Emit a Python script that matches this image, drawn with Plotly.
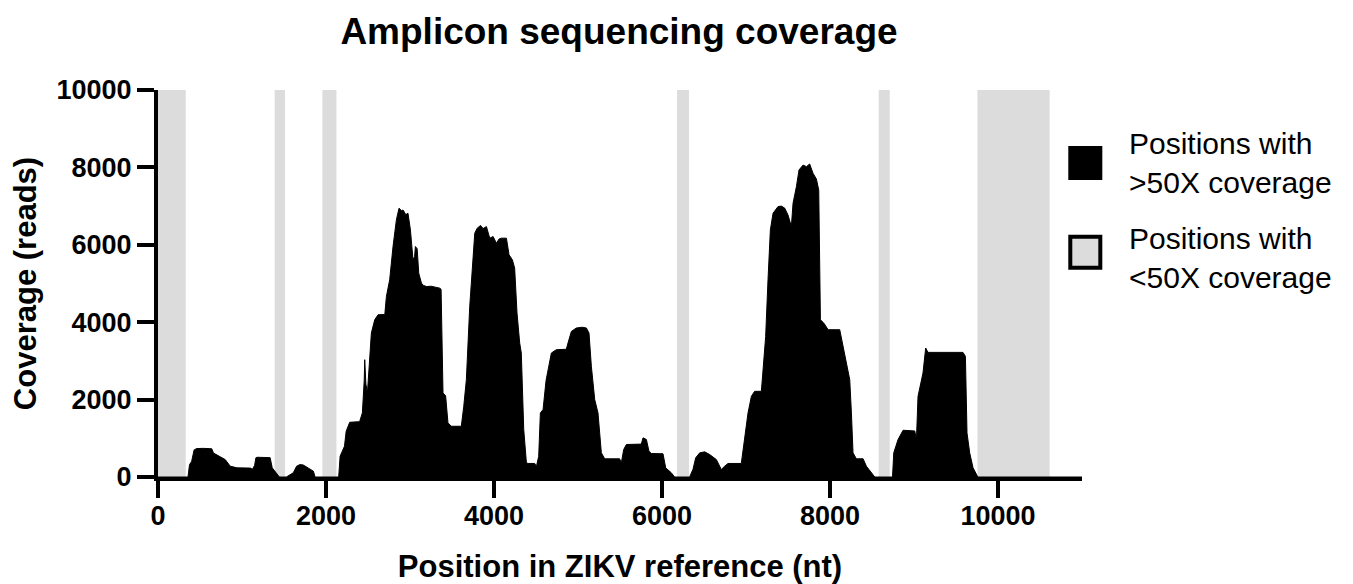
import plotly.graph_objects as go

# Coverage profile (position in nt, coverage in reads)
position = [0, 330, 357, 375, 400, 430, 460, 540, 640, 660, 760, 800, 860, 900, 940, 1100, 1124, 1150,
            1165, 1180, 1335, 1360, 1400, 1430, 1445, 1528, 1611, 1650, 1690, 1730, 1790, 1850, 1870,
            2151, 2168, 2200, 2220, 2240, 2282, 2400, 2433, 2455, 2461, 2475, 2493, 2540, 2580, 2620,
            2700, 2719, 2758, 2798, 2838, 2869, 2900, 2917, 2950, 2976, 3005, 3036, 3055, 3064, 3085,
            3104, 3136, 3160, 3200, 3250, 3310, 3354, 3370, 3393, 3424, 3452, 3492, 3611, 3640, 3671,
            3711, 3743, 3771, 3800, 3840, 3870, 3910, 3949, 3989, 4029, 4060, 4088, 4148, 4179, 4219,
            4246, 4274, 4306, 4325, 4354, 4386, 4405, 4485, 4505, 4532, 4552, 4584, 4620, 4655, 4683,
            4742, 4861, 4881, 4921, 4980, 5050, 5100, 5131, 5159, 5199, 5238, 5278, 5318, 5496, 5516,
            5544, 5576, 5754, 5774, 5814, 5845, 5873, 6012, 6044, 6111, 6150, 6329, 6369, 6401, 6449,
            6508, 6568, 6647, 6706, 6746, 6786, 6944, 6964, 6996, 7024, 7064, 7103, 7183, 7203, 7234,
            7262, 7290, 7322, 7381, 7420, 7460, 7500, 7540, 7560, 7600, 7631, 7679, 7719, 7758, 7798,
            7838, 7866, 7886, 7926, 7978, 8116, 8155, 8195, 8235, 8255, 8274, 8314, 8394, 8433, 8493,
            8533, 8744, 8759, 8810, 8870, 9009, 9029, 9048, 9107, 9139, 9167, 9583, 9612, 9631, 9663,
            9703, 9750, 9760, 11000]
coverage = [0, 0, 0, 320, 400, 700, 735, 740, 730, 620, 495, 450, 280, 250, 237, 230, 200, 300,
            495, 510, 500, 237, 120, 60, 0, 0, 110, 280, 320, 310, 240, 150, 0,
            0, 537, 700, 795, 1182, 1414, 1430, 1656, 2500, 3031, 2400, 2172, 3720, 4064, 4193,
            4200, 4665, 5096, 5955, 6644, 6945, 6880, 6900, 6780, 6816, 6386, 5612, 5700, 5955, 5900,
            5268, 5010, 4950, 4920, 4930, 4900, 4880, 4850, 2172, 2100, 1398, 1311, 1311, 1827, 2516,
            4407, 5440, 6300, 6430, 6500, 6420, 6470, 6171, 6214, 6042, 6150, 6171, 6171, 5741, 5612,
            5397, 4236, 3462, 3204, 1225, 366, 350, 350, 270, 537, 1656, 1742, 2500, 2859, 3204,
            3290, 3300, 3462, 3762, 3850, 3870, 3850, 3720, 2859, 2000, 1656, 624, 470, 470, 366,
            710, 840, 850, 1011, 970, 666, 607, 600, 237, 108, 0, 0, 200, 495, 624,
            650, 580, 450, 194, 280, 350, 350, 710, 1311, 1656, 2085, 2214, 2214, 2688, 3633,
            5096, 6386, 6816, 6987, 7000, 6950, 6770, 6470, 7074, 7503, 7933, 8060, 8020, 8088, 7848,
            7700, 7417, 4064, 3978, 3806, 3806, 3375, 2988, 2516, 1656, 624, 470, 470, 280, 120,
            0, 0, 624, 968, 1208, 1190, 968, 2085, 2688, 3333, 3220, 3220, 3117, 1140, 624,
            237, 50, 0, 0]

# Regions with <50X coverage (start, end in nt)
low_start = [0, 1389, 1957, 6179, 8580, 9755]
low_end = [330, 1512, 2124, 6321, 8711, 10615]

x_ticks = [0, 2000, 4000, 6000, 8000, 10000]
y_ticks = [0, 2000, 4000, 6000, 8000, 10000]

legend_labels = ["Positions with<br>&gt;50X coverage", "Positions with<br>&lt;50X coverage"]

FONT = "Arial, Liberation Sans, Helvetica, sans-serif"
GRAY = "#dcdcdc"

# page has an 8px body margin, so the figure is offset by 8px
OFF = 8
W, H = 1353 - OFF, 584 - OFF
PL, PT, PR, PB = 158.3, 90, 1081.7, 477.5  # plot area in page pixels
L, T = PL - OFF, PT - OFF
R, B = W - (PR - OFF), H - (PB - OFF)
pw, ph = W - L - R, H - T - B


def px_x(px):
    return (px - PL) / pw


def px_y(py):
    return (PB - py) / ph


fig = go.Figure()

for s, e in zip(low_start, low_end):
    fig.add_vrect(x0=s, x1=e, fillcolor=GRAY, line_width=0, layer="below", opacity=1)

fig.add_trace(go.Scatter(x=position, y=coverage, mode="lines", fill="tozeroy",
                         fillcolor="black", line=dict(color="black", width=1),
                         showlegend=False, hoverinfo="x+y"))

# Manual legend
fig.add_shape(type="rect", xref="paper", yref="paper",
              x0=px_x(1068), x1=px_x(1102), y0=px_y(180), y1=px_y(146),
              fillcolor="black", line=dict(color="black", width=0))
fig.add_shape(type="rect", xref="paper", yref="paper",
              x0=px_x(1070), x1=px_x(1100), y0=px_y(268), y1=px_y(237),
              fillcolor=GRAY, line=dict(color="black", width=4))
for lab, cy in zip(legend_labels, [163, 258]):
    fig.add_annotation(text=lab, xref="paper", yref="paper", x=px_x(1127), y=px_y(cy),
                       xanchor="left", yanchor="middle", showarrow=False, align="left",
                       font=dict(family=FONT, size=30, color="black"))

fig.update_layout(
    width=W, height=H,
    margin=dict(l=L, r=R, t=T, b=B, pad=0, autoexpand=False),
    paper_bgcolor="white", plot_bgcolor="white",
    title=dict(text="Amplicon sequencing coverage", x=px_x(619), xref="paper", xanchor="center",
               y=1 - (31 - OFF) / H, yref="container", yanchor="middle",
               font=dict(family=FONT, size=37, color="black", weight="bold")),
    font=dict(family=FONT, color="black"),
    showlegend=False,
)

fig.update_xaxes(range=[0, 11000], tickvals=x_ticks, ticktext=[str(v) for v in x_ticks],
                 automargin=False,
                 showgrid=False, zeroline=False, showline=True, linecolor="black", linewidth=4,
                 ticks="outside", ticklen=17, tickwidth=4, tickcolor="black",
                 ticklabelstandoff=-5,
                 tickfont=dict(family=FONT, size=27, color="black", weight="bold"),
                 title=dict(text="Position in ZIKV reference (nt)", standoff=26,
                            font=dict(family=FONT, size=31, color="black", weight="bold")))
fig.update_yaxes(range=[0, 10000], tickvals=y_ticks, ticktext=[str(v) for v in y_ticks],
                 automargin=False,
                 showgrid=False, zeroline=False, showline=True, linecolor="black", linewidth=4,
                 ticks="outside", ticklen=17, tickwidth=4, tickcolor="black",
                 ticklabelstandoff=0,
                 tickfont=dict(family=FONT, size=27, color="black", weight="bold"),
                 title=dict(text="Coverage (reads)", standoff=15,
                            font=dict(family=FONT, size=31, color="black", weight="bold")))

fig.write_html("out.html")
